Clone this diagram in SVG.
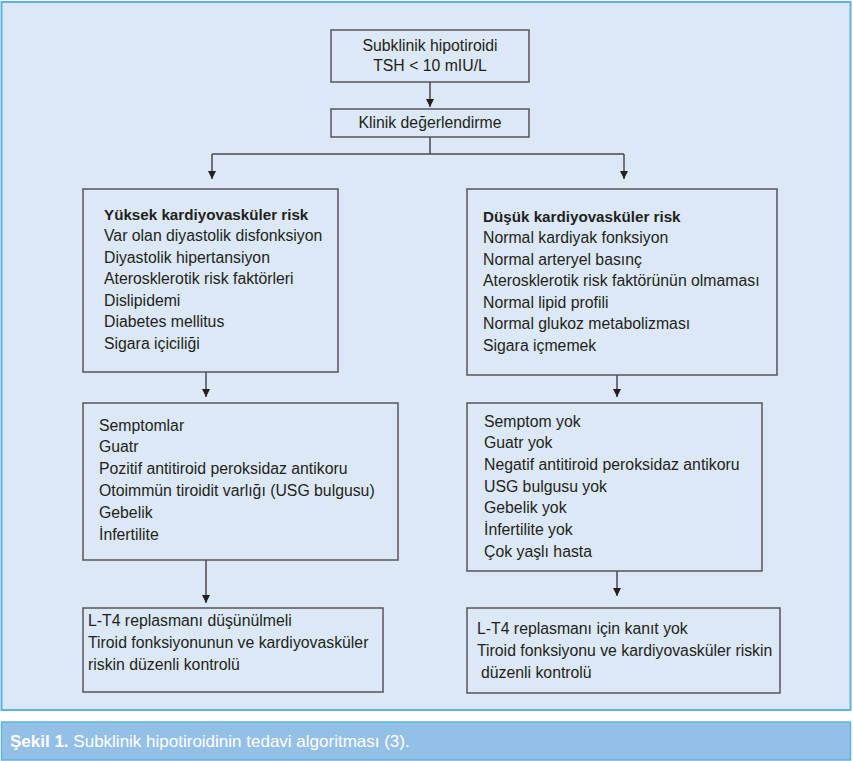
<svg xmlns="http://www.w3.org/2000/svg" width="853" height="761" viewBox="0 0 853 761">
<style>
.box{fill:#dce8f5;stroke:#555659;stroke-width:1.5}
.t{font-family:"Liberation Sans",Arial,sans-serif;font-size:15.8px;fill:#231f20}
.b{font-weight:bold;font-size:15.2px}
.c{text-anchor:middle}
.ln{fill:none;stroke:#4a4b4e;stroke-width:1.5}
.cap{font-family:"Liberation Sans",Arial,sans-serif;font-size:17px;fill:#ffffff}
</style>
<defs>
<marker id="ah" viewBox="0 0 10 10" refX="10" refY="5" markerWidth="8" markerHeight="10" markerUnits="userSpaceOnUse" orient="auto">
<path d="M0,0 L10,5 L0,10 Z" fill="#231f20"/>
</marker>
</defs>
<rect x="1.5" y="2" width="849" height="708" fill="#dce8f5" stroke="#5ab4e4" stroke-width="2"/>
<rect x="1.5" y="722" width="849" height="38" fill="#94c0e7" stroke="#5ab4e4" stroke-width="1.5"/>
<text class="cap" x="10" y="747"><tspan font-weight="bold">Şekil 1.</tspan> Subklinik hipotiroidinin tedavi algoritması (3).</text>
<g id="connectors">
<line class="ln" x1="430" y1="82" x2="430" y2="107" marker-end="url(#ah)"/>
<polyline class="ln" points="430,137 430,154"/>
<polyline class="ln" points="212,154 624,154"/>
<line class="ln" x1="212" y1="154" x2="212" y2="179" marker-end="url(#ah)"/>
<line class="ln" x1="624" y1="154" x2="624" y2="179" marker-end="url(#ah)"/>
<line class="ln" x1="206" y1="372" x2="206" y2="397" marker-end="url(#ah)"/>
<line class="ln" x1="617" y1="375" x2="617" y2="397" marker-end="url(#ah)"/>
<line class="ln" x1="206" y1="560" x2="206" y2="603" marker-end="url(#ah)"/>
<line class="ln" x1="617" y1="571" x2="617" y2="596" marker-end="url(#ah)"/>
</g>
<g id="n-start">
<rect class="box" x="331" y="30" width="198" height="52"/>
<text class="t c" x="430" y="50.5">Subklinik hipotiroidi</text>
<text class="t c" x="430" y="71">TSH &lt; 10 mIU/L</text>
</g>
<g id="n-klinik">
<rect class="box" x="331" y="109" width="198" height="28"/>
<text class="t c" x="430" y="128">Klinik değerlendirme</text>
</g>
<g id="n-yuksek">
<rect class="box" x="83" y="189" width="255" height="183"/>
<text class="t b" x="104" y="219.5">Yüksek kardiyovasküler risk</text>
<text class="t" x="104" y="241">Var olan diyastolik disfonksiyon</text>
<text class="t" x="104" y="262.5">Diyastolik hipertansiyon</text>
<text class="t" x="104" y="284">Aterosklerotik risk faktörleri</text>
<text class="t" x="104" y="305.5">Dislipidemi</text>
<text class="t" x="104" y="327">Diabetes mellitus</text>
<text class="t" x="104" y="348.5">Sigara içiciliği</text>
</g>
<g id="n-dusuk">
<rect class="box" x="467" y="189" width="310" height="186"/>
<text class="t b" x="483" y="221.5">Düşük kardiyovasküler risk</text>
<text class="t" x="483" y="243">Normal kardiyak fonksiyon</text>
<text class="t" x="483" y="264.5">Normal arteryel basınç</text>
<text class="t" x="483" y="286">Aterosklerotik risk faktörünün olmaması</text>
<text class="t" x="483" y="307.5">Normal lipid profili</text>
<text class="t" x="483" y="329">Normal glukoz metabolizması</text>
<text class="t" x="483" y="350.5">Sigara içmemek</text>
</g>
<g id="n-semptom">
<rect class="box" x="83" y="403" width="315" height="157"/>
<text class="t" x="99" y="430.5">Semptomlar</text>
<text class="t" x="99" y="452.3">Guatr</text>
<text class="t" x="99" y="474.1">Pozitif antitiroid peroksidaz antikoru</text>
<text class="t" x="99" y="495.9">Otoimmün tiroidit varlığı (USG bulgusu)</text>
<text class="t" x="99" y="517.7">Gebelik</text>
<text class="t" x="99" y="539.5">İnfertilite</text>
</g>
<g id="n-semptomyok">
<rect class="box" x="467" y="403" width="295" height="168"/>
<text class="t" x="484" y="426.5">Semptom yok</text>
<text class="t" x="484" y="448.2">Guatr yok</text>
<text class="t" x="484" y="469.9">Negatif antitiroid peroksidaz antikoru</text>
<text class="t" x="484" y="491.6">USG bulgusu yok</text>
<text class="t" x="484" y="513.3">Gebelik yok</text>
<text class="t" x="484" y="535">İnfertilite yok</text>
<text class="t" x="484" y="556.7">Çok yaşlı hasta</text>
</g>
<g id="n-lt4-evet">
<rect class="box" x="83" y="608" width="300" height="84"/>
<text class="t" x="88" y="626">L-T4 replasmanı düşünülmeli</text>
<text class="t" x="88" y="648">Tiroid fonksiyonunun ve kardiyovasküler</text>
<text class="t" x="88" y="670">riskin düzenli kontrolü</text>
</g>
<g id="n-lt4-hayir">
<rect class="box" x="467" y="608" width="313" height="85"/>
<text class="t" x="477" y="633.5">L-T4 replasmanı için kanıt yok</text>
<text class="t" x="477" y="655.5">Tiroid fonksiyonu ve kardiyovasküler riskin</text>
<text class="t" x="481" y="677.5">düzenli kontrolü</text>
</g>
</svg>
